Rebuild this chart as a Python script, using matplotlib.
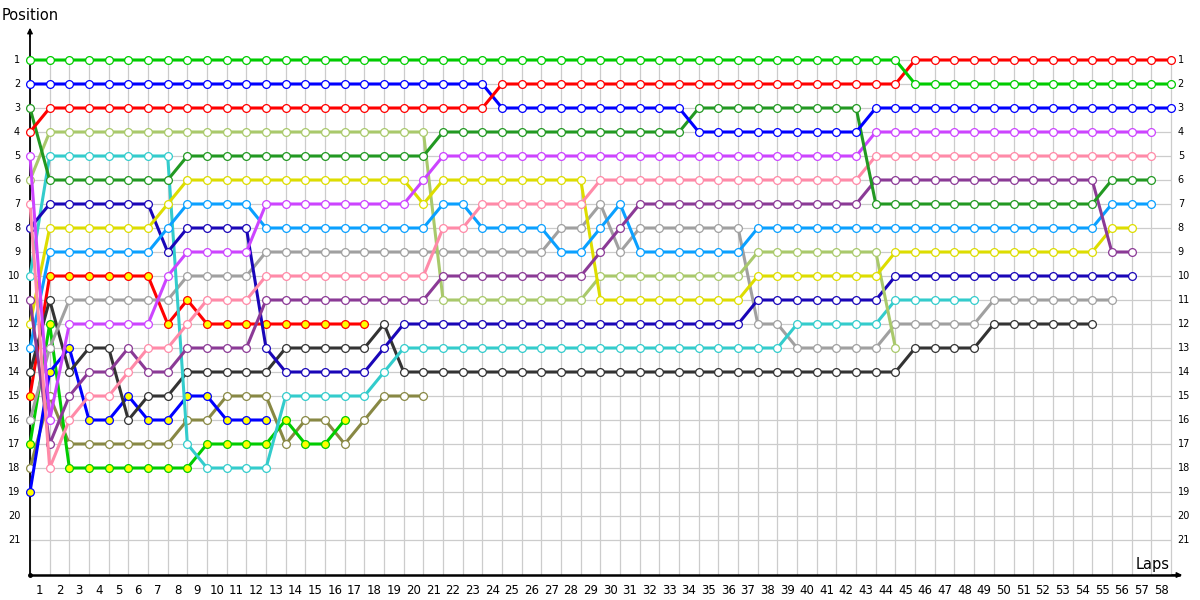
import matplotlib
matplotlib.use("Agg")
import matplotlib.pyplot as plt

# ---------------- data (position per lap, starting at lap 0 = grid) ----------------
laps_total = 58
lap_labels = [str(i) for i in range(1, 59)]
position_labels = [str(i) for i in range(1, 22)]

green = [1, 1, 1, 1, 1, 1, 1, 1, 1, 1,
         1, 1, 1, 1, 1, 1, 1, 1, 1, 1,
         1, 1, 1, 1, 1, 1, 1, 1, 1, 1,
         1, 1, 1, 1, 1, 1, 1, 1, 1, 1,
         1, 1, 1, 1, 1, 2, 2, 2, 2, 2,
         2, 2, 2, 2, 2, 2, 2, 2, 2]
red = [4, 3, 3, 3, 3, 3, 3, 3, 3, 3,
       3, 3, 3, 3, 3, 3, 3, 3, 3, 3,
       3, 3, 3, 3, 2, 2, 2, 2, 2, 2,
       2, 2, 2, 2, 2, 2, 2, 2, 2, 2,
       2, 2, 2, 2, 2, 1, 1, 1, 1, 1,
       1, 1, 1, 1, 1, 1, 1, 1, 1]
blue = [2, 2, 2, 2, 2, 2, 2, 2, 2, 2,
        2, 2, 2, 2, 2, 2, 2, 2, 2, 2,
        2, 2, 2, 2, 3, 3, 3, 3, 3, 3,
        3, 3, 3, 3, 4, 4, 4, 4, 4, 4,
        4, 4, 4, 3, 3, 3, 3, 3, 3, 3,
        3, 3, 3, 3, 3, 3, 3, 3, 3]
dkgreen = [3, 6, 6, 6, 6, 6, 6, 6, 5, 5,
           5, 5, 5, 5, 5, 5, 5, 5, 5, 5,
           5, 4, 4, 4, 4, 4, 4, 4, 4, 4,
           4, 4, 4, 4, 3, 3, 3, 3, 3, 3,
           3, 3, 3, 7, 7, 7, 7, 7, 7, 7,
           7, 7, 7, 7, 7, 6, 6, 6]
violet = [5, 16, 12, 12, 12, 12, 12, 10, 9, 9,
          9, 9, 7, 7, 7, 7, 7, 7, 7, 7,
          6, 5, 5, 5, 5, 5, 5, 5, 5, 5,
          5, 5, 5, 5, 5, 5, 5, 5, 5, 5,
          5, 5, 5, 4, 4, 4, 4, 4, 4, 4,
          4, 4, 4, 4, 4, 4, 4, 4]
pink = [7, 18, 16, 15, 15, 14, 13, 13, 12, 11,
        11, 11, 10, 10, 10, 10, 10, 10, 10, 10,
        10, 8, 8, 7, 7, 7, 7, 7, 7, 6,
        6, 6, 6, 6, 6, 6, 6, 6, 6, 6,
        6, 6, 6, 5, 5, 5, 5, 5, 5, 5,
        5, 5, 5, 5, 5, 5, 5, 5]
ltolive = [6, 4, 4, 4, 4, 4, 4, 4, 4, 4,
           4, 4, 4, 4, 4, 4, 4, 4, 4, 4,
           4, 11, 11, 11, 11, 11, 11, 11, 11, 10,
           10, 10, 10, 10, 10, 10, 10, 9, 9, 9,
           9, 9, 9, 9, 13]
navy = [8, 7, 7, 7, 7, 7, 7, 9, 8, 8,
        8, 8, 13, 14, 14, 14, 14, 14, 13, 12,
        12, 12, 12, 12, 12, 12, 12, 12, 12, 12,
        12, 12, 12, 12, 12, 12, 12, 11, 11, 11,
        11, 11, 11, 11, 10, 10, 10, 10, 10, 10,
        10, 10, 10, 10, 10, 10, 10]
cyan = [10, 5, 5, 5, 5, 5, 5, 5, 17, 18,
        18, 18, 18, 15, 15, 15, 15, 15, 14, 13,
        13, 13, 13, 13, 13, 13, 13, 13, 13, 13,
        13, 13, 13, 13, 13, 13, 13, 13, 13, 12,
        12, 12, 12, 12, 11, 11, 11, 11, 11]
dkpurple = [11, 17, 15, 14, 14, 13, 14, 14, 13, 13,
            13, 13, 11, 11, 11, 11, 11, 11, 11, 11,
            11, 10, 10, 10, 10, 10, 10, 10, 10, 9,
            8, 7, 7, 7, 7, 7, 7, 7, 7, 7,
            7, 7, 7, 6, 6, 6, 6, 6, 6, 6,
            6, 6, 6, 6, 6, 9, 9]
yellow = [12, 8, 8, 8, 8, 8, 8, 7, 6, 6,
          6, 6, 6, 6, 6, 6, 6, 6, 6, 6,
          7, 6, 6, 6, 6, 6, 6, 6, 6, 11,
          11, 11, 11, 11, 11, 11, 11, 10, 10, 10,
          10, 10, 10, 10, 9, 9, 9, 9, 9, 9,
          9, 9, 9, 9, 9, 8, 8]
ltblue = [13, 9, 9, 9, 9, 9, 9, 8, 7, 7,
          7, 7, 8, 8, 8, 8, 8, 8, 8, 8,
          8, 7, 7, 8, 8, 8, 8, 9, 9, 8,
          7, 9, 9, 9, 9, 9, 9, 8, 8, 8,
          8, 8, 8, 8, 8, 8, 8, 8, 8, 8,
          8, 8, 8, 8, 8, 7, 7, 7]
dkgrey = [14, 11, 14, 13, 13, 16, 15, 15, 14, 14,
          14, 14, 14, 13, 13, 13, 13, 13, 12, 14,
          14, 14, 14, 14, 14, 14, 14, 14, 14, 14,
          14, 14, 14, 14, 14, 14, 14, 14, 14, 14,
          14, 14, 14, 14, 14, 13, 13, 13, 13, 12,
          12, 12, 12, 12, 12]
red_y = [15, 10, 10, 10, 10, 10, 10, 12, 11, 12,
         12, 12, 12, 12, 12, 12, 12, 12]
grey = [16, 13, 11, 11, 11, 11, 11, 11, 10, 10,
        10, 10, 9, 9, 9, 9, 9, 9, 9, 9,
        9, 9, 9, 9, 9, 9, 9, 8, 8, 7,
        9, 8, 8, 8, 8, 8, 8, 12, 12, 13,
        13, 13, 13, 13, 12, 12, 12, 12, 12, 11,
        11, 11, 11, 11, 11, 11]
green_y = [17, 12, 18, 18, 18, 18, 18, 18, 18, 17,
           17, 17, 17, 16, 17, 17, 16]
olive = [18, 15, 17, 17, 17, 17, 17, 17, 16, 16,
         15, 15, 15, 17, 16, 16, 17, 16, 15, 15, 15]
blue_y = [19, 14, 13, 16, 16, 15, 16, 16, 15, 15,
          16, 16, 16]

series = [
    (olive,    '#888844', 'white'),
    (green_y,  '#00cc00', '#ffff00'),
    (red_y,    '#ff0000', '#ffff00'),
    (blue_y,   '#0000ff', '#ffff00'),
    (dkgrey,   '#333333', 'white'),
    (grey,     '#a0a0a0', 'white'),
    (cyan,     '#33cccc', 'white'),
    (navy,     '#1a06b8', 'white'),
    (ltolive,  '#a9c96b', 'white'),
    (yellow,   '#dddd00', 'white'),
    (ltblue,   '#0aa0ff', 'white'),
    (dkpurple, '#8b3a96', 'white'),
    (pink,     '#ff8aa8', 'white'),
    (violet,   '#cc44ff', 'white'),
    (dkgreen,  '#229922', 'white'),
    (blue,     '#0000ff', 'white'),
    (red,      '#ff0000', 'white'),
    (green,    '#00cc00', 'white'),
]

# ---------------- figure ----------------
W, H = 1200, 600
fig = plt.figure(figsize=(12, 6), dpi=100)
x0, x1, y_top, y_bot = 30, 1185, 25, 575
ax = fig.add_axes([x0 / W, (H - y_bot) / H, (x1 - x0) / W, (y_bot - y_top) / H])
px_lap = 19.67
px_pos = 24.0
ax.set_xlim(0, (x1 - x0) / px_lap)
ybottom = (y_bot - 36) / px_pos
ytop = (y_top - 36) / px_pos
ax.set_ylim(ybottom, ytop)
ax.axis('off')

# grid
ax.vlines(range(0, laps_total + 1), 1, ybottom, colors='#cccccc', linewidth=0.9, zorder=1)
ax.hlines(range(1, 22), 0, laps_total, colors='#cccccc', linewidth=0.9, zorder=1)

# axes with arrows
ax.plot([0, 0], [ybottom, ytop + 0.3], color='black', lw=1.3, zorder=2, clip_on=False)
ax.plot([0, (x1 - x0) / px_lap - 0.3], [ybottom, ybottom], color='black', lw=1.8, zorder=2, clip_on=False)
ax.annotate('', xy=(0, ytop), xytext=(0, ytop + 0.6),
            arrowprops=dict(arrowstyle='-|>', color='black', lw=1.0, mutation_scale=8),
            annotation_clip=False)
ax.annotate('', xy=((x1 - x0) / px_lap, ybottom), xytext=((x1 - x0) / px_lap - 0.8, ybottom),
            arrowprops=dict(arrowstyle='-|>', color='black', lw=1.0, mutation_scale=8),
            annotation_clip=False)
ax.plot([0], [ybottom], marker='o', color='black', ms=2.5, clip_on=False, zorder=3)

# series
for vals, col, face in series:
    xs = list(range(len(vals)))
    ax.plot(xs, vals, color=col, lw=2.2, solid_joinstyle='round', zorder=4,
            marker='o', markersize=5.6, markerfacecolor=face,
            markeredgecolor=col, markeredgewidth=0.9, clip_on=False)

# labels
for i, lab in enumerate(position_labels):
    p = i + 1
    ax.text(-0.5, p, lab, ha='right', va='center', fontsize=7, color='black', clip_on=False)
    ax.text(58.35, p, lab, ha='left', va='center', fontsize=7, color='black', clip_on=False)
for i, lab in enumerate(lap_labels):
    ax.text(i + 0.5, (590 - 36) / px_pos, lab, ha='center', va='center', fontsize=8.5,
            color='black', clip_on=False)

fig.text(2 / W, 1 - 15 / H, 'Position', ha='left', va='center', fontsize=10.5)
fig.text(1170 / W, 1 - 565 / H, 'Laps', ha='right', va='center', fontsize=10.5)

fig.savefig('out.png', dpi=100)
